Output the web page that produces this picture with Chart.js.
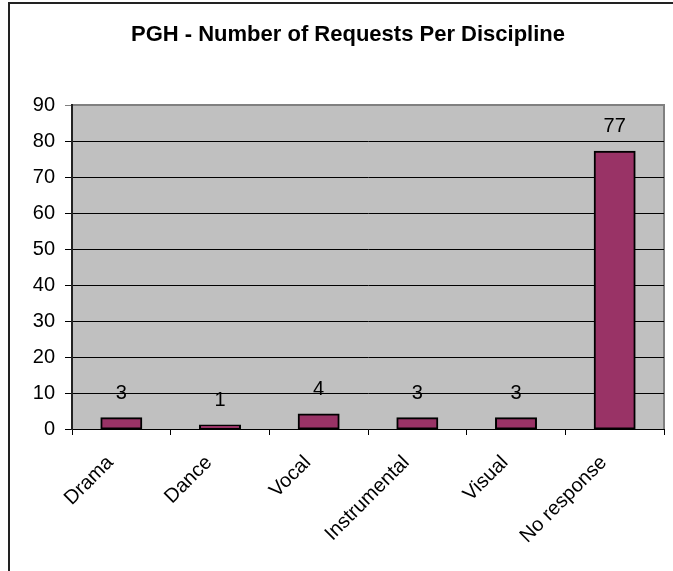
<!DOCTYPE html>
<html>
<head>
<meta charset="utf-8">
<script src="https://cdn.jsdelivr.net/npm/chart.js@4/dist/chart.umd.min.js"></script>
<style>
  html, body { margin: 0; padding: 0; background: #fff; }
  #wrap { width: 673px; height: 571px; position: relative; }
</style>
</head>
<body>
<div id="wrap"><canvas id="c" width="673" height="571"></canvas></div>
<script>
const titleText = 'PGH - Number of Requests Per Discipline';
const categories = ['Drama', 'Dance', 'Vocal', 'Instrumental', 'Visual', 'No response'];
const requests = [3, 1, 4, 3, 3, 77];
const yTicks = [0, 10, 20, 30, 40, 50, 60, 70, 80, 90];

const FONT = '"Liberation Sans", Arial, sans-serif';

const framePlugin = {
  id: 'frame',
  beforeDraw(chart) {
    const ctx = chart.ctx;
    const a = chart.chartArea;
    ctx.save();
    ctx.fillStyle = '#fff';
    ctx.fillRect(0, 0, chart.width, chart.height);
    // outer frame (left and top visible)
    ctx.strokeStyle = '#222';
    ctx.lineWidth = 2;
    ctx.beginPath();
    ctx.moveTo(9, chart.height + 2);
    ctx.lineTo(9, 3);
    ctx.lineTo(chart.width + 2, 3);
    ctx.stroke();
    // plot area
    ctx.fillStyle = '#C0C0C0';
    ctx.fillRect(a.left, a.top, a.right - a.left, a.bottom - a.top);
    ctx.strokeStyle = '#808080';
    ctx.lineWidth = 2;
    ctx.beginPath();
    ctx.moveTo(a.left, a.top);
    ctx.lineTo(a.right, a.top);
    ctx.lineTo(a.right, a.bottom);
    ctx.stroke();
    ctx.restore();
  },
  afterDatasetsDraw(chart) {
    const ctx = chart.ctx;
    const meta = chart.getDatasetMeta(0);
    ctx.save();
    ctx.fillStyle = '#000';
    ctx.font = '20px ' + FONT;
    ctx.textAlign = 'center';
    ctx.textBaseline = 'middle';
    meta.data.forEach((bar, i) => {
      ctx.fillText(String(requests[i]), bar.x, bar.y - 25);
    });
    ctx.restore();
  }
};

new Chart(document.getElementById('c'), {
  type: 'bar',
  data: {
    labels: categories,
    datasets: [{
      data: requests,
      backgroundColor: '#993366',
      borderColor: '#000',
      borderWidth: 2,
      borderSkipped: false,
      inflateAmount: 1,
      barPercentage: 0.405,
      categoryPercentage: 1.0
    }]
  },
  options: {
    responsive: false,
    animation: false,
    devicePixelRatio: 1,
    layout: { padding: { left: 32, right: 9, top: 0, bottom: 0 } },
    plugins: {
      legend: { display: false },
      tooltip: { enabled: false },
      title: {
        display: true,
        text: titleText,
        color: '#000',
        font: { family: FONT, size: 22, weight: 'bold', lineHeight: 1.2 },
        padding: { top: 22, bottom: 56.6 }
      }
    },
    scales: {
      x: {
        offset: true,
        afterFit(scale) { scale.height = 142; },
        grid: {
          display: true,
          offset: true,
          drawOnChartArea: false,
          drawTicks: true,
          tickLength: 6,
          color: '#000',
          lineWidth: 1
        },
        border: { display: true, color: '#000', width: 1 },
        ticks: {
          color: '#000',
          font: { family: FONT, size: 20 },
          minRotation: 45,
          maxRotation: 45,
          autoSkip: false,
          padding: 16,
          labelOffset: -11
        }
      },
      y: {
        min: 0,
        max: 90,
        afterFit(scale) { scale.width = 40; },
        afterBuildTicks(scale) { scale.ticks = yTicks.map(v => ({ value: v })); },
        grid: {
          display: true,
          drawOnChartArea: true,
          drawTicks: true,
          tickLength: 7,
          color: (c) => (c.tick && c.tick.value === 90) ? '#808080' : '#000',
          lineWidth: 1
        },
        border: { display: true, color: '#222', width: 2 },
        ticks: {
          color: '#000',
          font: { family: FONT, size: 20 },
          padding: 10
        }
      }
    }
  },
  plugins: [framePlugin]
});
</script>
</body>
</html>
